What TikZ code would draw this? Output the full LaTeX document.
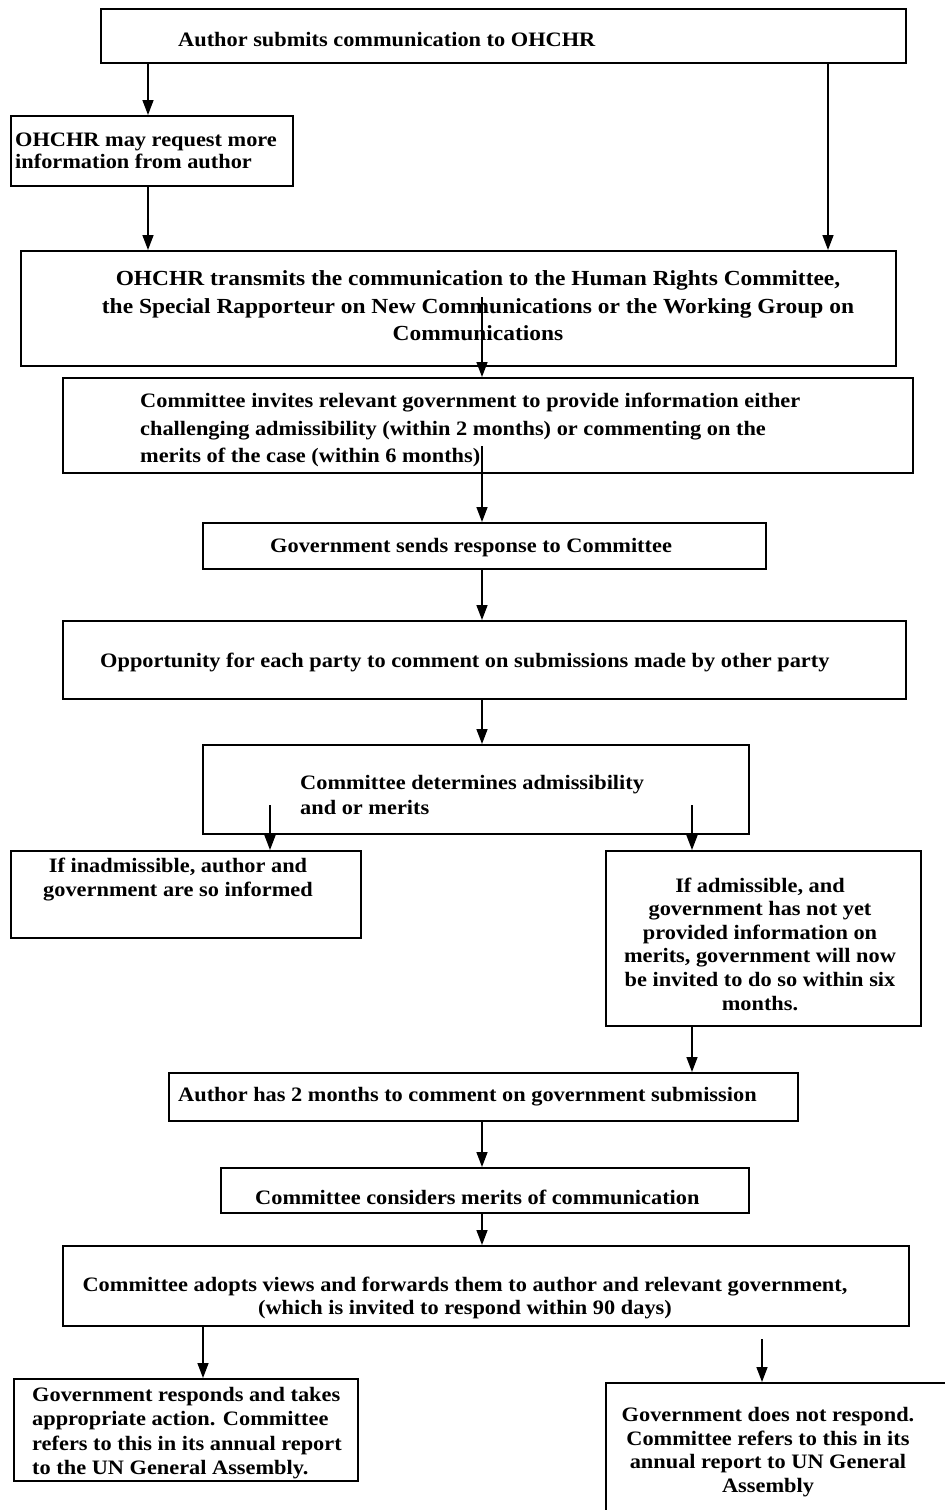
\documentclass[tikz,border=0pt]{standalone}
\usepackage{fontspec}
\setmainfont{Liberation Serif}[FakeStretch=1.09]
\usepackage{tikz}
\usetikzlibrary{arrows.meta,positioning}

\tikzset{
  box/.style={draw,line width=1.9pt,anchor=north west,inner sep=0pt},
  txt/.style={inner sep=0pt,font=\bfseries\fontsize{20.5}{24}\selectfont},
  arr/.style={-{Triangle[length=15pt,width=11pt]},line width=1.5pt}
}

\begin{document}
\begin{tikzpicture}[x=1pt,y=-1pt]
\useasboundingbox (0,0) rectangle (945,1510);
% boxes
\node[box,minimum width=805pt,minimum height=54pt] (submit) at (100,8) {};
\node[box,minimum width=282pt,minimum height=70pt] (request) at (10,115) {};
\node[box,minimum width=875pt,minimum height=115pt] (transmit) at (20,250) {};
\node[box,minimum width=850pt,minimum height=95pt] (invites) at (62,377) {};
\node[box,minimum width=563pt,minimum height=46pt] (response) at (202,522) {};
\node[box,minimum width=843pt,minimum height=78pt] (comment) at (62,620) {};
\node[box,minimum width=546pt,minimum height=89pt] (decide) at (202,744) {};
\node[box,minimum width=350pt,minimum height=87pt] (inadm) at (10,850) {};
\node[box,minimum width=315pt,minimum height=175pt] (adm) at (605,850) {};
\node[box,minimum width=629pt,minimum height=48pt] (reply) at (168,1072) {};
\node[box,minimum width=528pt,minimum height=45pt] (merits) at (220,1167) {};
\node[box,minimum width=846pt,minimum height=80pt] (views) at (62,1245) {};
\node[box,minimum width=344pt,minimum height=102pt] (acts) at (13,1378) {};
\node[box,minimum width=360pt,minimum height=140pt] (silent) at (605,1382) {};

% texts
\node[txt,anchor=west] (submit-t) at (178,40) {Author submits communication to OHCHR};
\node[txt,anchor=west,align=left,font=\bfseries\fontsize{20.5}{22}\selectfont] (request-t) at (15,151)
  {OHCHR may request more\\information from author};
\node[txt,align=center,font=\bfseries\fontsize{21.5}{27.5}\selectfont] (transmit-t) at (478,306)
  {OHCHR transmits the communication to the Human Rights Committee,\\
   the Special Rapporteur on New Communications or the Working Group on\\
   Communications};
\node[txt,anchor=west,align=left,font=\bfseries\fontsize{20.5}{27.5}\selectfont] (invites-t) at (140,430)
  {Committee invites relevant government to provide information either\\
   challenging admissibility (within 2 months) or commenting on the\\
   merits of the case (within 6 months)};
\node[txt,anchor=west] (response-t) at (270,548) {Government sends response to Committee};
\node[txt,anchor=west] (comment-t) at (100,662) {Opportunity for each party to comment on submissions made by other party};
\node[txt,anchor=west,align=left,font=\bfseries\fontsize{20.5}{25}\selectfont] (decide-t) at (300,795)
  {Committee determines admissibility\\and or merits};
\node[txt,align=center] (inadm-t) at (178,880)
  {If inadmissible, author and\\government are so informed};
\node[txt,align=center,font=\bfseries\fontsize{20.5}{23.6}\selectfont] (adm-t) at (760,944)
  {If admissible, and\\government has not yet\\provided information on\\merits, government will now\\be invited to do so within six\\months.};
\node[txt,anchor=west] (reply-t) at (178,1097) {Author has 2 months to comment on government submission};
\node[txt,anchor=west] (merits-t) at (255,1197) {Committee considers merits of communication};
\node[txt,align=center,font=\bfseries\fontsize{20.5}{23}\selectfont] (views-t) at (465,1298)
  {Committee adopts views and forwards them to author and relevant government,\\
   (which is invited to respond within 90 days)};
\node[txt,anchor=west,align=left,font=\bfseries\fontsize{20.5}{24.3}\selectfont] (acts-t) at (32,1433)
  {Government responds and takes\\appropriate action. Committee\\refers to this in its annual report\\to the UN General Assembly.};
\node[txt,align=center,font=\bfseries\fontsize{20.5}{23.6}\selectfont] (silent-t) at (768,1452)
  {Government does not respond.\\Committee refers to this in its\\annual report to UN General\\Assembly};

% arrow columns and free ends
\coordinate (colL) at (148,0);
\coordinate (colR) at (828,0);
\coordinate (colM) at (482,0);
\coordinate (colA) at (270,0);
\coordinate (colB) at (692,0);
\coordinate (colC) at (203,0);
\coordinate (colD) at (762,0);
\coordinate (s4) at (482,297);
\coordinate (s5) at (482,446);
\coordinate (s8) at (270,805);
\coordinate (s9) at (692,805);
\coordinate (s14) at (762,1339);

% arrows
\draw[arr] (colL |- submit.south) -- (colL |- request.north);
\draw[arr] (colL |- request.south) -- (colL |- transmit.north);
\draw[arr] (colR |- submit.south) -- (colR |- transmit.north);
\draw[arr] (s4) -- (colM |- invites.north);
\draw[arr] (s5) -- (colM |- response.north);
\draw[arr] (colM |- response.south) -- (colM |- comment.north);
\draw[arr] (colM |- comment.south) -- (colM |- decide.north);
\draw[arr] (s8) -- (colA |- inadm.north);
\draw[arr] (s9) -- (colB |- adm.north);
\draw[arr] (colB |- adm.south) -- (colB |- reply.north);
\draw[arr] (colM |- reply.south) -- (colM |- merits.north);
\draw[arr] (colM |- merits.south) -- (colM |- views.north);
\draw[arr] (colC |- views.south) -- (colC |- acts.north);
\draw[arr] (s14) -- (colD |- silent.north);
\end{tikzpicture}
\end{document}
